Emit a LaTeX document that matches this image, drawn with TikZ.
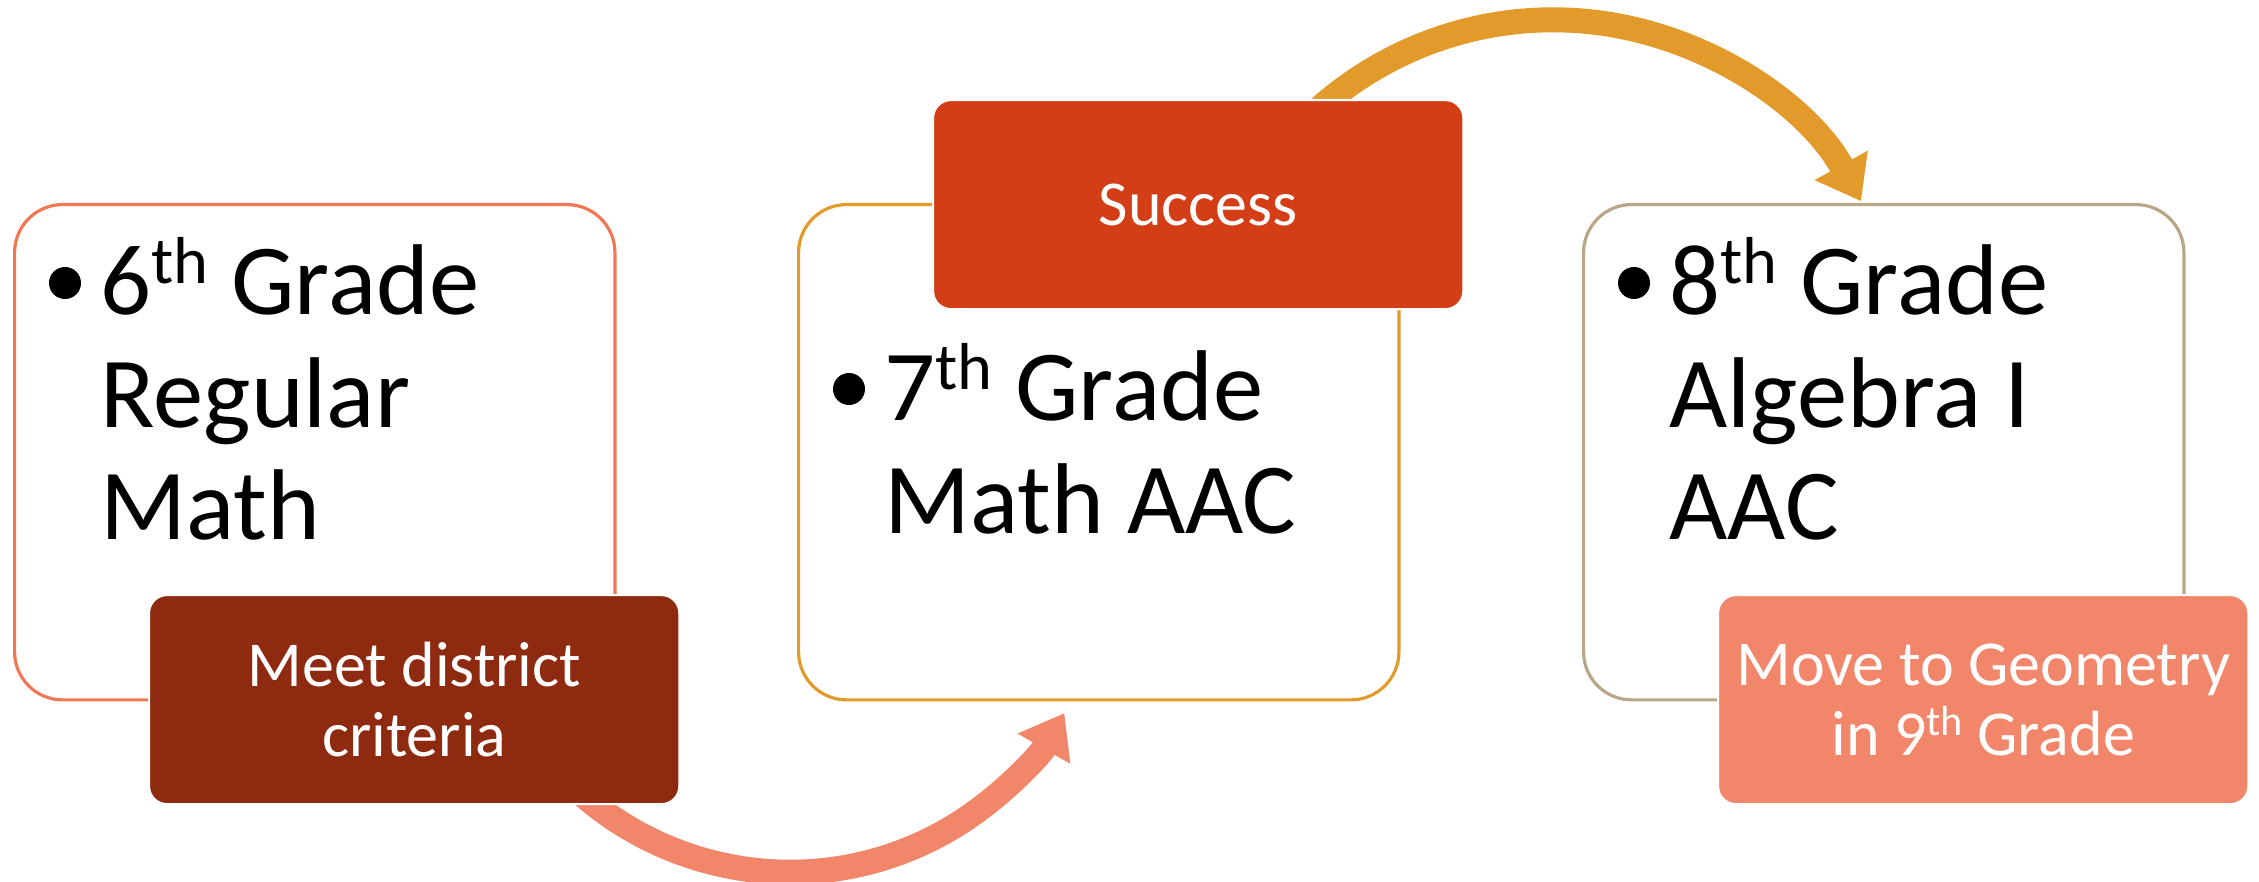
\documentclass[tikz,border=0pt]{standalone}
\usepackage{fontspec}
\setmainfont{Carlito}
\usepackage{graphicx}
\usetikzlibrary{arrows.meta}

\newcommand{\ordsup}[1]{\raisebox{0.31em}{\scalebox{0.66}{#1}}}
\newcommand{\gradelines}[1]{\begin{tabular}[t]{@{}l@{}}#1\end{tabular}}

\begin{document}
\begin{tikzpicture}[x=0.01cm, y=-0.01cm,
	bigbox/.style={draw, line width=0.9pt, fill=white, rounded corners=0.48cm,
		minimum width=6cm, minimum height=4.95cm, anchor=north west, inner sep=0},
	tagbox/.style={draw=white, line width=0.6pt, rounded corners=0.18cm,
		minimum width=5.3cm, minimum height=2.09cm, anchor=north west, inner sep=0,
		text=white, align=center, font=\fontsize{18.2pt}{19.9pt}\selectfont},
	gradetext/.style={anchor=base west, inner sep=0,
		font=\fontsize{28.6pt}{31.9pt}\selectfont},
	flowarrow/.style={line width=0.25cm, -{Triangle[length=4.1mm, width=5.8mm]}}]
	\definecolor{coralline}{RGB}{240,120,85}
	\definecolor{goldline}{RGB}{226,154,42}
	\definecolor{tanline}{RGB}{184,166,135}
	\definecolor{brickfill}{RGB}{142,42,15}
	\definecolor{rustfill}{RGB}{212,62,22}
	\definecolor{salmonfill}{RGB}{241,134,106}
	
	\useasboundingbox (0,0) rectangle (2259,882);
	\clip (0,0) rectangle (2259,882);
	
	% the three grade boxes
	\node[bigbox, draw=coralline] (box6) at (13,203) {};
	\node[bigbox, draw=goldline] (box7) at (797,203) {};
	\node[bigbox, draw=tanline] (box8) at (1582,203) {};
	
	% curved arrows (centres of the arcs)
	\coordinate (lowc) at (790,556);
	\coordinate (topc) at (1553,372);
	\draw[flowarrow, salmonfill] ([shift={(-145:3.16cm)}]lowc) arc[start angle=-145, end angle=-29.8, radius=3.16cm];
	\draw[flowarrow, goldline] ([shift={(140:3.52cm)}]topc) arc[start angle=140, end angle=29, radius=3.52cm];
	
	% tags on the boxes
	\node[tagbox, fill=brickfill] (meet) at ([shift={(135,391)}]box6.north west) {Meet district\\criteria};
	\node[tagbox, fill=rustfill] (success) at ([shift={(135,-104)}]box7.north west) {Success};
	\node[tagbox, fill=salmonfill] (move) at ([shift={(135,391)}]box8.north west) {Move to Geometry\\in 9\ordsup{th} Grade};
	
	% bullet text
	\node[gradetext] (t6) at ([shift={(87,112)}]box6.north west) {\gradelines{6\ordsup{th} Grade\\Regular\\Math}};
	\node[gradetext] (t7) at ([shift={(87,218)}]box7.north west) {\gradelines{7\ordsup{th} Grade\\Math AAC}};
	\node[gradetext] (t8) at ([shift={(87,112)}]box8.north west) {\gradelines{8\ordsup{th} Grade\\Algebra I\\AAC}};
	\foreach \t in {t6,t7,t8}
		\fill (\t.base west) ++(-35,-32) circle[radius=0.16cm];
\end{tikzpicture}
\end{document}
